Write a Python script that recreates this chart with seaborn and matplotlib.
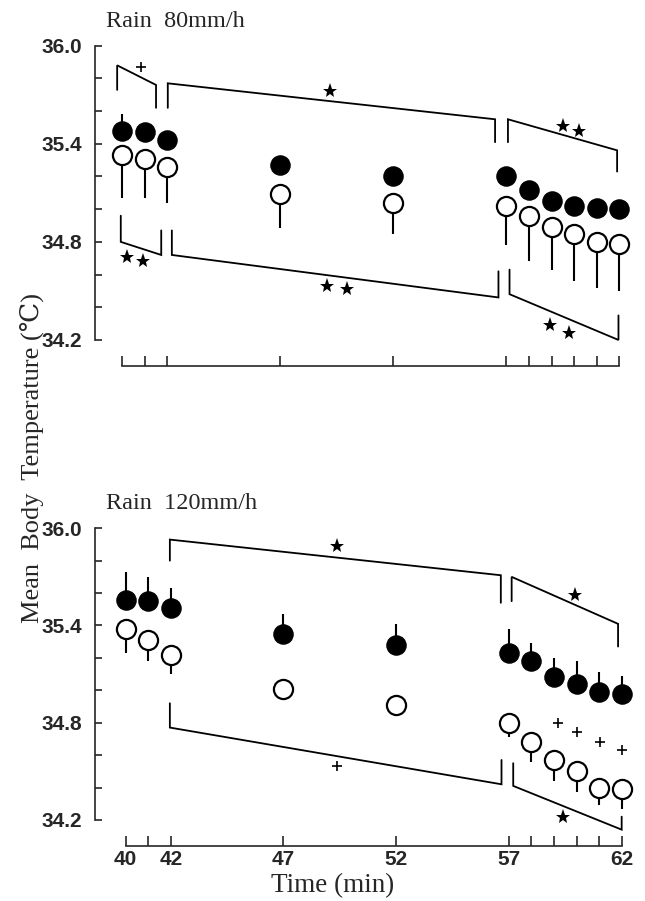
import numpy as np
import pandas as pd
import matplotlib
matplotlib.use("Agg")
import matplotlib.pyplot as plt
import seaborn as sns

# ---------------- data ----------------
times = [40, 41, 42, 47, 52, 57, 58, 59, 60, 61, 62]
tick_times = [40, 42, 47, 52, 57, 62]
ytick_vals = [34.2, 34.4, 34.6, 34.8, 35.0, 35.2, 35.4, 35.6, 35.8, 36.0]
ytick_labeled = [34.2, 34.8, 35.4, 36.0]

top_filled = [35.48, 35.47, 35.425, 35.27, 35.20, 35.20, 35.12, 35.05, 35.02, 35.01, 35.00]
top_filled_sd = [0.10, 0.04, 0.04, 0.04, 0.04, 0.04, 0.04, 0.04, 0.04, 0.04, 0.04]
top_open = [35.33, 35.31, 35.26, 35.095, 35.04, 35.02, 34.96, 34.89, 34.85, 34.80, 34.79]
top_open_sd = [0.26, 0.24, 0.22, 0.21, 0.19, 0.24, 0.28, 0.26, 0.29, 0.28, 0.29]

bot_filled = [35.56, 35.55, 35.51, 35.35, 35.28, 35.23, 35.18, 35.08, 35.04, 34.99, 34.98]
bot_filled_sd = [0.17, 0.15, 0.12, 0.12, 0.13, 0.15, 0.11, 0.12, 0.14, 0.12, 0.11]
bot_open = [35.38, 35.31, 35.22, 35.01, 34.91, 34.80, 34.68, 34.57, 34.50, 34.40, 34.39]
bot_open_sd = [0.15, 0.13, 0.12, 0.03, 0.03, 0.09, 0.12, 0.13, 0.13, 0.11, 0.12]

# significance brackets (x list, y list)
top_brackets = [
    ([39.78, 39.78, 41.50, 41.50], [35.73, 35.88, 35.76, 35.62]),
    ([42.02, 42.02, 56.50, 56.50], [35.62, 35.77, 35.55, 35.41]),
    ([57.07, 57.07, 61.90, 61.90], [35.41, 35.55, 35.36, 35.23]),
    ([39.94, 39.94, 41.73, 41.73], [34.96, 34.80, 34.72, 34.87]),
    ([42.20, 42.20, 56.65, 56.65], [34.87, 34.72, 34.46, 34.62]),
    ([57.14, 57.14, 61.96, 61.96], [34.63, 34.48, 34.20, 34.35]),
]
top_stars_x = [49.2, 59.5, 60.2, 40.2, 40.94, 49.06, 49.94, 58.94, 59.75]
top_stars_y = [35.72, 35.51, 35.48, 34.71, 34.68, 34.53, 34.51, 34.29, 34.24]
top_plus_x = [40.84]
top_plus_y = [35.87]

bot_brackets = [
    ([41.96, 41.96, 56.64, 56.64], [35.80, 35.93, 35.71, 35.54]),
    ([57.12, 57.12, 61.84, 61.84], [35.55, 35.70, 35.41, 35.27]),
    ([41.96, 41.96, 56.67, 56.67], [34.92, 34.77, 34.42, 34.57]),
    ([57.19, 57.19, 62.00, 62.00], [34.55, 34.41, 34.14, 34.22]),
]
bot_stars_x = [49.36, 59.92, 59.38]
bot_stars_y = [35.89, 35.59, 34.22]
bot_plus_x = [49.36, 59.18, 60.0, 61.06, 62.0]
bot_plus_y = [34.53, 34.80, 34.74, 34.68, 34.63]

titles = ["Rain  80mm/h", "Rain  120mm/h"]

# ---------------- style ----------------
sns.set_style("ticks")
SERIF = ['Liberation Serif', 'DejaVu Serif', 'DejaVu Sans']
NUM = ['Liberation Sans Narrow', 'Liberation Sans', 'DejaVu Sans']
plt.rcParams['font.family'] = SERIF
plt.rcParams['axes.linewidth'] = 1.2

fig = plt.figure(figsize=(6.45, 9.01), dpi=100)
ax_top = fig.add_axes([0.1473, 0.5864, 0.834, 0.381])
ax_bot = fig.add_axes([0.1473, 0.0540, 0.834, 0.3777])

def draw_panel(ax, filled, filled_sd, opn, opn_sd, brackets, sx, sy, px, py,
               xlim, title, title_y, show_labels):
    df = pd.DataFrame({"time": times, "filled": filled, "fsd": filled_sd,
                       "open": opn, "osd": opn_sd})
    # error bars (filled: upward, open: downward)
    ax.vlines(df["time"], df["filled"], df["filled"] + df["fsd"],
              color="black", lw=1.5, zorder=2)
    ax.vlines(df["time"], df["open"] - df["osd"], df["open"],
              color="black", lw=1.5, zorder=2)
    sns.scatterplot(data=df, x="time", y="filled", ax=ax, s=190,
                    color="black", edgecolor="black", linewidth=1.0, zorder=3,
                    legend=False)
    sns.scatterplot(data=df, x="time", y="open", ax=ax, s=190,
                    facecolor="white", edgecolor="black", linewidth=1.6,
                    zorder=3, legend=False)
    for bx, by in brackets:
        ax.plot(bx, by, color="black", lw=1.3, zorder=1,
                solid_joinstyle="miter")
    ax.plot(sx, sy, ls="none", marker="*", ms=11, color="black",
            markeredgewidth=0, zorder=4)
    ax.plot(px, py, ls="none", marker="+", ms=7, color="black",
            markeredgewidth=1.2, zorder=4)

    ax.set_xlim(*xlim)
    ax.set_ylim(34.0, 36.1)
    ax.spines["top"].set_visible(False)
    ax.spines["right"].set_visible(False)
    ax.spines["left"].set_bounds(34.2, 36.0)
    ax.spines["bottom"].set_position(("data", 34.04))
    ax.spines["bottom"].set_bounds(40, 62)

    ax.set_yticks(ytick_vals)
    ax.set_yticklabels([f"{v:.1f}" if v in ytick_labeled else "" for v in ytick_vals],
                       fontsize=15, family=NUM, fontweight="bold")
    ax.set_xticks(times)
    if show_labels:
        ax.set_xticklabels([str(t) if t in tick_times else "" for t in times],
                           fontsize=15, family=NUM, fontweight="bold")
    else:
        ax.set_xticklabels([])
    ax.tick_params(axis="y", direction="in", length=5, width=1.2, pad=9)
    ax.tick_params(axis="x", direction="in", length=7, width=1.2, pad=3)
    ax.set_xlabel("")
    ax.set_ylabel("")
    ax.text(0.02, title_y, title, transform=ax.transAxes, fontsize=17.5,
            ha="left", va="baseline")

draw_panel(ax_top, top_filled, top_filled_sd, top_open, top_open_sd,
           top_brackets, top_stars_x, top_stars_y, top_plus_x, top_plus_y,
           (38.8, 62.6), titles[0], 1.006, False)
draw_panel(ax_bot, bot_filled, bot_filled_sd, bot_open, bot_open_sd,
           bot_brackets, bot_stars_x, bot_stars_y, bot_plus_x, bot_plus_y,
           (38.64, 62.5), titles[1], 1.01, True)

fig.text(32 / 645, 1 - 458 / 901, "Mean  Body  Temperature (℃)", rotation=90,
         ha="center", va="center", fontsize=19)
fig.text(333 / 645, 1 - 886 / 901, "Time (min)", ha="center", va="center",
         fontsize=19.5)

fig.savefig("out.png", dpi=100)
